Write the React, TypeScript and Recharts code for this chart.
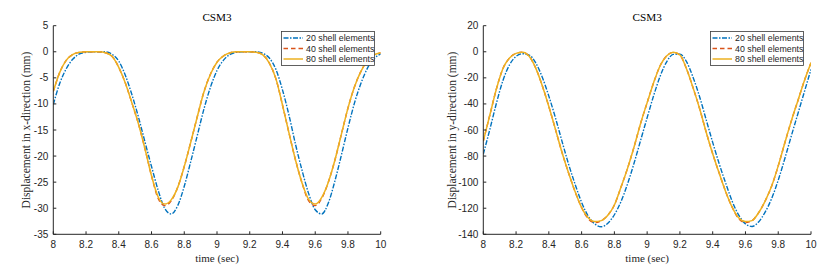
import React from 'react';
import { LineChart, Line, XAxis, YAxis, Legend } from 'recharts';

const timeSec = [
  8.0, 8.04, 8.08, 8.12, 8.16, 8.2, 8.24, 8.28, 8.32, 8.36,
  8.4, 8.44, 8.48, 8.52, 8.56, 8.6, 8.64, 8.68, 8.72, 8.76,
  8.8, 8.84, 8.88, 8.92, 8.96, 9.0, 9.04, 9.08, 9.12, 9.16,
  9.2, 9.24, 9.28, 9.32, 9.36, 9.4, 9.44, 9.48, 9.52, 9.56,
  9.6, 9.64, 9.68, 9.72, 9.76, 9.8, 9.84, 9.88, 9.92, 9.96, 10.0,
];

// x-direction displacement (mm)
const xDisp20 = [
  -10.1, -6.0, -3.2, -1.4, -0.4, -0.1, 0, 0, 0, -0.5,
  -1.8, -4.5, -8.2, -12.5, -17.3, -22.0, -26.5, -30.0, -31.1, -29.5,
  -25.8, -21.0, -16.0, -11.0, -6.8, -3.6, -1.6, -0.5, -0.1, 0,
  0, 0, -0.3, -1.2, -3.4, -7.3, -12.2, -17.8, -22.8, -27.2,
  -30.3, -31.1, -29.0, -24.8, -19.8, -14.6, -9.8, -6.0, -3.1, -1.3, -0.4,
];
const xDisp40 = [
  -7.6, -3.9, -1.6, -0.5, -0.1, 0, 0, 0, -0.2, -0.9,
  -3.0, -6.0, -9.8, -13.8, -18.6, -23.8, -28.1, -29.5, -28.6, -26.0,
  -22.0, -17.3, -12.4, -7.7, -4.3, -2.0, -0.8, -0.2, 0, 0,
  0, -0.1, -0.6, -2.2, -5.2, -10.2, -15.6, -20.8, -25.2, -28.6,
  -29.5, -28.1, -25.0, -20.8, -15.8, -10.8, -6.7, -3.7, -1.7, -0.6, -0.2,
];
const xDisp80 = [
  -7.6, -3.9, -1.6, -0.5, -0.1, 0, 0, 0, -0.2, -0.9,
  -3.0, -6.0, -9.8, -13.8, -18.6, -23.8, -27.8, -29.2, -28.4, -26.0,
  -22.0, -17.3, -12.4, -7.7, -4.3, -2.0, -0.8, -0.2, 0, 0,
  0, -0.1, -0.6, -2.2, -5.2, -10.2, -15.6, -20.8, -25.2, -28.3,
  -29.2, -27.9, -25.0, -20.8, -15.8, -10.8, -6.7, -3.7, -1.7, -0.6, -0.2,
];

// y-direction displacement (mm)
const yDisp20 = [
  -78.5, -59.5, -39.5, -22.0, -10.0, -3.5, -1.5, -2.5, -8.5, -19.5,
  -34.0, -50.5, -68.5, -86.0, -101.5, -115.5, -126.0, -132.0, -134.2, -131.5,
  -125.0, -115.0, -101.5, -85.5, -68.0, -50.5, -33.5, -18.5, -7.5, -2.0,
  -1.8, -7.5, -19.5, -34.5, -52.0, -69.5, -86.0, -101.0, -115.0, -125.5,
  -132.0, -134.0, -130.5, -123.0, -112.5, -98.5, -82.0, -64.5, -47.5, -30.5, -13.5,
];
const yDisp40 = [
  -68.5, -48.5, -28.5, -12.8, -4.8, -1.2, -0.3, -3.5, -12.5, -26.0,
  -42.0, -59.3, -77.0, -92.8, -107.2, -119.5, -128.0, -131.0, -129.5, -125.4,
  -117.5, -104.0, -89.5, -73.0, -55.0, -39.0, -23.5, -10.5, -3.0, -0.4,
  -2.5, -13.0, -27.5, -43.5, -61.5, -78.2, -93.2, -107.5, -119.5, -128.2,
  -131.0, -129.5, -123.5, -114.5, -103.0, -87.5, -70.0, -53.0, -37.5, -22.0, -8.5,
];
const yDisp80 = [
  -68.5, -48.5, -28.5, -12.8, -4.8, -1.2, -0.3, -3.5, -12.5, -26.0,
  -42.0, -59.3, -77.0, -92.8, -107.2, -119.5, -127.3, -130.2, -129.5, -125.4,
  -117.5, -104.0, -89.5, -73.0, -55.0, -39.0, -23.5, -10.5, -3.0, -0.4,
  -2.5, -13.0, -27.5, -43.5, -61.5, -78.2, -93.2, -107.5, -119.5, -127.5,
  -130.2, -129.5, -123.5, -114.5, -103.0, -87.5, -70.0, -53.0, -37.5, -22.0, -8.5,
];

const seriesNames = ['20 shell elements', '40 shell elements', '80 shell elements'];
const timeTicks = [8, 8.2, 8.4, 8.6, 8.8, 9, 9.2, 9.4, 9.6, 9.8, 10];
const xDispTicks = [5, 0, -5, -10, -15, -20, -25, -30, -35];
const yDispTicks = [20, 0, -20, -40, -60, -80, -100, -120, -140];
const titleText = 'CSM3';
const xLabelText = 'time (sec)';
const xDispLabel = 'Displacement in x-direction (mm)';
const yDispLabel = 'Displacement in y-direction (mm)';

const COLORS = ['#0072BD', '#D95319', '#EDB120'];
const DASHES = ['5 1.5 1.5 1.5', '4.5 3', undefined];
const SANS = "'Liberation Sans', Arial, Helvetica, sans-serif";
const SERIF = "'Liberation Serif', 'Times New Roman', serif";
const AXIS = '#262626';

function LegendBox() {
  return (
    <svg width={94} height={35} style={{ display: 'block' }}>
      <rect x={0.5} y={0.5} width={93} height={34} fill="#ffffff" stroke="#3a3a3a" strokeWidth={0.8} />
      {seriesNames.map((n, i) => (
        <g key={n}>
          <line x1={2.5} x2={22} y1={7 + i * 10.5} y2={7 + i * 10.5} stroke={COLORS[i]} strokeWidth={1.5} strokeDasharray={DASHES[i]} />
          <text x={25} y={7 + i * 10.5} dominantBaseline="central" fontSize={8.8} fontFamily={SANS} fill={AXIS}>{n}</text>
        </g>
      ))}
    </svg>
  );
}

type PanelProps = {
  left: number;
  series: number[][];
  yTicks: number[];
  yLabel: string;
  yAxisWidth: number;
  marginRight: number;
  labelOffset: number;
  legendLeft: number;
};

function Panel({ left, series, yTicks, yLabel, yAxisWidth, marginRight, labelOffset, legendLeft }: PanelProps) {
  const rows = timeSec.map((t, i) => ({ t, s20: series[0][i], s40: series[1][i], s80: series[2][i] }));
  const yDomain = [yTicks[yTicks.length - 1], yTicks[0]];
  const tickStyle = { fill: AXIS, fontSize: 10, fontFamily: SANS };
  return (
    <div style={{ position: 'absolute', left, top: 0 }}>
      <LineChart width={415} height={269} data={rows} margin={{ top: 25.7, right: marginRight, bottom: 0, left: 0 }}>
        <XAxis
          dataKey="t" type="number" domain={[8, 10]} allowDataOverflow ticks={timeTicks} interval={0}
          tickSize={-3} tickMargin={9.5} height={34.7} stroke={AXIS} tick={tickStyle}
          tickFormatter={(v: number) => String(v)}
          label={(p: any) => {
            const vb = p.viewBox;
            const cx = vb.x + vb.width / 2;
            return (
              <g>
                <text x={cx} y={vb.y + 27.7} textAnchor="middle" fontSize={11} fontFamily={SERIF} fill={AXIS}>
                  {xLabelText}
                </text>
                <text x={cx} y={21} textAnchor="middle" fontSize={11.2} fontFamily={SERIF} fill="#000">
                  {titleText}
                </text>
              </g>
            );
          }}
        />
        <XAxis
          xAxisId="top" orientation="top" dataKey="t" type="number" domain={[8, 10]} allowDataOverflow ticks={timeTicks}
          mirror tick={false} tickSize={3} height={0} stroke={AXIS}
        />
        <YAxis
          type="number" domain={yDomain} allowDataOverflow ticks={yTicks} interval={0}
          tickSize={-3} tickMargin={8} width={yAxisWidth} stroke={AXIS} tick={tickStyle}
          label={(p: any) => {
            const vb = p.viewBox;
            const cx = vb.x + labelOffset;
            const cy = vb.y + vb.height / 2;
            return (
              <text x={cx} y={cy} transform={`rotate(-90, ${cx}, ${cy})`} textAnchor="middle" dominantBaseline="central" fontSize={11.5} fontFamily={SERIF} fill={AXIS}>
                {yLabel}
              </text>
            );
          }}
        />
        <YAxis
          yAxisId="right" orientation="right" type="number" domain={yDomain} allowDataOverflow ticks={yTicks}
          mirror tick={false} tickSize={3} width={0} stroke={AXIS}
        />
        <Legend
          layout="horizontal" align="center" verticalAlign="middle"
          wrapperStyle={{ left: legendLeft, top: 30.5, width: 94, height: 35 }}
          content={() => <LegendBox />}
        />
        <Line dataKey="s20" name={seriesNames[0]} type="monotone" stroke={COLORS[0]} strokeWidth={1.4} strokeDasharray={DASHES[0]} dot={false} isAnimationActive={false} />
        <Line dataKey="s40" name={seriesNames[1]} type="monotone" stroke={COLORS[1]} strokeWidth={1.4} strokeDasharray={DASHES[1]} dot={false} isAnimationActive={false} />
        <Line dataKey="s80" name={seriesNames[2]} type="monotone" stroke={COLORS[2]} strokeWidth={1.5} dot={false} isAnimationActive={false} />
      </LineChart>
    </div>
  );
}

export default function App() {
  return (
    <div style={{ position: 'absolute', left: 0, top: 0, width: 830, height: 269, background: '#fff' }}>
      <Panel left={0} series={[xDisp20, xDisp40, xDisp80]} yTicks={xDispTicks} yLabel={xDispLabel}
        yAxisWidth={53.3} marginRight={34.3} labelOffset={26} legendLeft={281} />
      <Panel left={415} series={[yDisp20, yDisp40, yDisp80]} yTicks={yDispTicks} yLabel={yDispLabel}
        yAxisWidth={68.3} marginRight={19} labelOffset={36.7} legendLeft={295} />
    </div>
  );
}
